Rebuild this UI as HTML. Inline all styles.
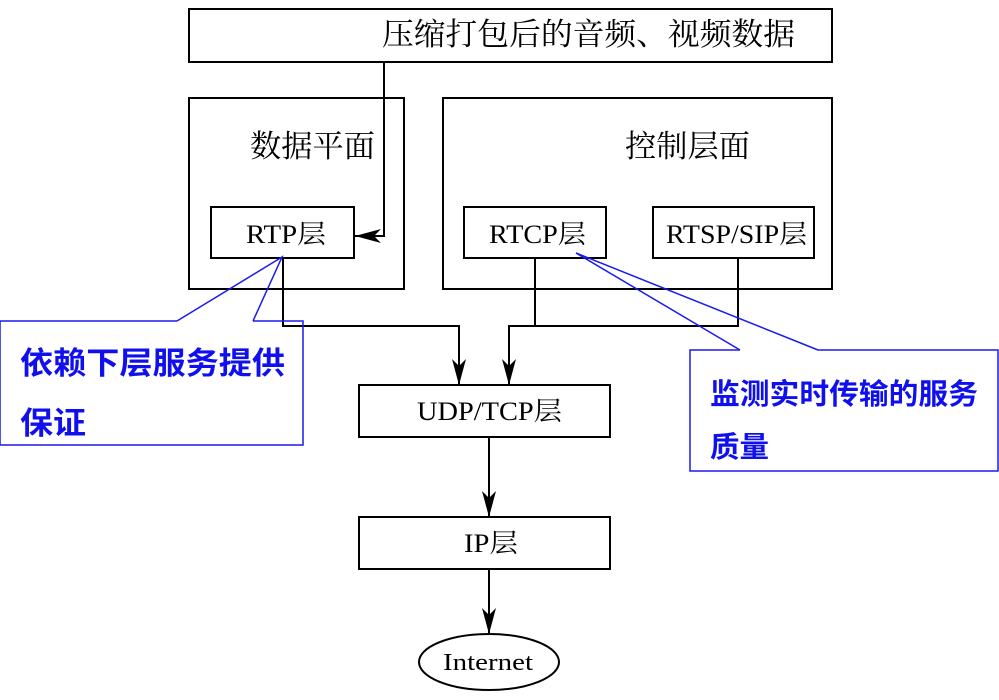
<!DOCTYPE html><html><head><style>body{margin:0;background:#fff}svg{display:block}
.s{font-family:"Liberation Serif","Noto Serif CJK SC",serif;fill:#000}
.b{font-family:"Liberation Sans","Noto Sans CJK SC",sans-serif;font-weight:bold;fill:#1010ee}</style></head><body>
<svg width="999" height="700" viewBox="0 0 999 700">
<defs><marker id="a" markerWidth="26" markerHeight="14" refX="26" refY="7" orient="auto" markerUnits="userSpaceOnUse"><path d="M0,0 L26,7 L0,14 L7,7z" fill="#000"/></marker></defs>
<g fill="none" stroke="#000" stroke-width="2">
<rect x="189" y="9" width="643" height="53"/>
<rect x="189" y="98" width="215" height="191"/>
<rect x="443" y="98" width="389" height="191"/>
<rect x="211" y="207" width="143" height="51"/>
<rect x="464" y="207" width="142" height="51"/>
<rect x="653" y="207" width="161" height="51"/>
<rect x="359" y="385" width="251" height="52"/>
<rect x="359" y="517" width="251" height="52"/>
<ellipse cx="489" cy="662" rx="70" ry="28"/>
<polyline points="384,62 384,236 355,236" marker-end="url(#a)"/>
<polyline points="283,258 283,326 459,326 459,385" marker-end="url(#a)"/>
<polyline points="535,258 535,326"/>
<polyline points="738,258 738,326 509,326 509,385" marker-end="url(#a)"/>
<line x1="489" y1="437" x2="489" y2="517" marker-end="url(#a)"/>
<line x1="489" y1="569" x2="489" y2="634" marker-end="url(#a)"/>
</g>
<g fill="none" stroke="#1a1aee" stroke-width="1.5">
<polyline points="177,321 0,321 0,445 303,445 303,321 253,321"/>
<polyline points="177,321 282,257 253,321"/>
<polyline points="740,350 690,350 690,471 998,471 998,350 818,350"/>
<polyline points="740,350 576,253 818,350"/>
</g>
<text class="s" x="382" y="45" font-size="31" textLength="413" lengthAdjust="spacingAndGlyphs">压缩打包后的音频、视频数据</text>
<text class="s" x="250" y="157" font-size="31" textLength="125" lengthAdjust="spacingAndGlyphs">数据平面</text>
<text class="s" x="625" y="157" font-size="31" textLength="125" lengthAdjust="spacingAndGlyphs">控制层面</text>
<text class="s" x="246" y="243" font-size="26" textLength="80" lengthAdjust="spacingAndGlyphs">RTP层</text>
<text class="s" x="489" y="243" font-size="26" textLength="97" lengthAdjust="spacingAndGlyphs">RTCP层</text>
<text class="s" x="666" y="243" font-size="26" textLength="141" lengthAdjust="spacingAndGlyphs">RTSP/SIP层</text>
<text class="s" x="417" y="420" font-size="26" textLength="145" lengthAdjust="spacingAndGlyphs">UDP/TCP层</text>
<text class="s" x="464" y="552" font-size="26" textLength="54" lengthAdjust="spacingAndGlyphs">IP层</text>
<text class="s" x="443" y="670" font-size="24" textLength="90" lengthAdjust="spacingAndGlyphs">Internet</text>
<text class="b" x="20" y="374" font-size="31" textLength="265" lengthAdjust="spacingAndGlyphs">依赖下层服务提供</text>
<text class="b" x="20" y="434" font-size="31" textLength="66" lengthAdjust="spacingAndGlyphs">保证</text>
<text class="b" x="710" y="404" font-size="29" textLength="268" lengthAdjust="spacingAndGlyphs">监测实时传输的服务</text>
<text class="b" x="710" y="457" font-size="29" textLength="59" lengthAdjust="spacingAndGlyphs">质量</text>
</svg></body></html>
